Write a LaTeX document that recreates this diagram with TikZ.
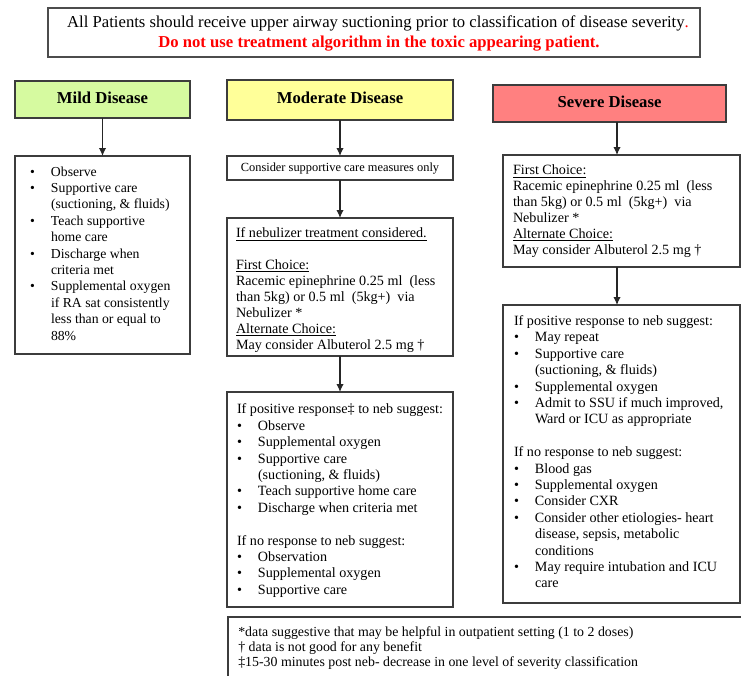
\documentclass[tikz,border=0pt]{standalone}
\usepackage{fontspec}
\setmainfont{Liberation Serif}
\usetikzlibrary{arrows.meta,fit}
\definecolor{mildc}{RGB}{214,250,160}
\definecolor{modc}{RGB}{255,255,153}
\definecolor{sevc}{RGB}{255,128,128}
\definecolor{edge}{RGB}{60,60,60}
\definecolor{redtxt}{RGB}{255,0,0}
\def\myBi{0pt}
\def\myBw{15.75pt}
\newcommand\bu{\makebox[\myBw][l]{\hspace*{\myBi}•}}
\newcommand\cu{\hspace*{\myBw}}
\tikzset{
  dbox/.style={draw=edge, line width=0.9pt, inner sep=0pt, outer sep=0pt},
  hbox/.style={draw=black!70, line width=1.3pt, inner sep=0pt, outer sep=0pt},
  txt/.style={align=left, inner sep=0pt, outer sep=0pt, font=\fontsize{10.3}{12.3}\selectfont},
  txtb/.style={align=left, inner sep=0pt, outer sep=0pt, font=\fontsize{10.6}{12.3}\selectfont},
  txtc/.style={align=left, inner sep=0pt, outer sep=0pt, font=\fontsize{10.6}{11.9}\selectfont},
  ttl/.style={inner sep=0pt, font=\fontsize{12.5}{14}\selectfont\bfseries},
  arr/.style={draw=black!85, line width=0.8pt, -{Latex[length=6pt,width=5.5pt]}}
}
\begin{document}
\begin{tikzpicture}[x=0.75pt,y=-0.75pt]
\useasboundingbox (0,0) rectangle (741,675);
\clip (0,0) rectangle (741,675);
% coordinates of boxes
\coordinate (h1) at (48,8);   \coordinate (h2) at (700,57);
\coordinate (a1) at (15,81);  \coordinate (a2) at (190,118);
\coordinate (b1) at (15,156); \coordinate (b2) at (190,354);
\coordinate (c1) at (227,80); \coordinate (c2) at (453,120);
\coordinate (d1) at (227,156);\coordinate (d2) at (453,180);
\coordinate (e1) at (227,218);\coordinate (e2) at (453,356);
\coordinate (f1) at (227,392);\coordinate (f2) at (453,607);
\coordinate (g1) at (493,85); \coordinate (g2) at (726,122);
\coordinate (k1) at (503,155);\coordinate (k2) at (740,267);
\coordinate (m1) at (503,305);\coordinate (m2) at (740,603);
\coordinate (n1) at (228,617);\coordinate (n2) at (748,690);
\coordinate (sx) at (617,0);

\node[hbox, fit=(h1)(h2)] (head) {};
\node[dbox, fill=mildc, fit=(a1)(a2)] (mildT) {};
\node[dbox, fit=(b1)(b2)] (mildB) {};
\node[dbox, fill=modc, fit=(c1)(c2)] (modT) {};
\node[dbox, fit=(d1)(d2)] (cons) {};
\node[dbox, fit=(e1)(e2)] (neb) {};
\node[dbox, fit=(f1)(f2)] (pos) {};
\node[dbox, fill=sevc, fit=(g1)(g2)] (sevT) {};
\node[dbox, fit=(k1)(k2)] (sevF) {};
\node[dbox, fit=(m1)(m2)] (sevR) {};
\node[dbox, fit=(n1)(n2)] (foot) {};

% header text
\node[inner sep=0pt, font=\fontsize{12.5}{14}\selectfont] (ht1) at (378,23)
  {All Patients should receive upper airway suctioning prior to classification of disease severity\textcolor{redtxt}{.}};
\node[inner sep=0pt, font=\fontsize{12.5}{14}\selectfont\bfseries, text=redtxt] (ht2) at (379,44)
  {Do not use treatment algorithm in the toxic appearing patient.};

% titles
\node[ttl] (mildL) at ([yshift=1.5pt]mildT.center) {Mild Disease};
\node[ttl] (modL) at ([yshift=1.5pt]modT.center) {Moderate Disease};
\node[ttl] (sevL) at ([yshift=1.5pt]sevT.center) {Severe Disease};

% mild text
\node[txt, anchor=north west] (mildtx) at (30,166.5) {%
\bu Observe\\
\bu Supportive care\\
\cu (suctioning, \& fluids)\\
\bu Teach supportive\\
\cu home care\\
\bu Discharge when\\
\cu criteria met\\
\bu Supplemental oxygen\\
\cu if RA sat consistently\\
\cu less than or equal to\\
\cu 88\%};

% moderate
\node[inner sep=0pt, font=\fontsize{9.3}{11}\selectfont] (constx) at ([yshift=-0.5pt]cons.center) {Consider supportive care measures only};

\node[txtc, anchor=north west] (nebtx) at (236,228) {%
\underline{If nebulizer treatment considered.}\\
\strut\\
\underline{First Choice:}\\
Racemic epinephrine 0.25 ml\ \ (less\\
than 5kg) or 0.5 ml\ \ (5kg+)\ \ via\\
Nebulizer *\\
\underline{Alternate Choice:}\\
May consider Albuterol 2.5 mg †};

\node[txtb, anchor=north west] (postx) at (237,404) {%
\def\myBi{3.75pt}\def\myBw{20.25pt}%
If positive response‡ to neb suggest:\\
\bu Observe\\
\bu Supplemental oxygen\\
\bu Supportive care\\
\cu (suctioning, \& fluids)\\
\bu Teach supportive home care\\
\bu Discharge when criteria met\\
\strut\\
If no response to neb suggest:\\
\bu Observation\\
\bu Supplemental oxygen\\
\bu Supportive care};

% severe
\node[txtc, anchor=north west] (sevFtx) at (513,165) {%
\underline{First Choice:}\\
Racemic epinephrine 0.25 ml\ \ (less\\
than 5kg) or 0.5 ml\ \ (5kg+)\ \ via\\
Nebulizer *\\
\underline{Alternate Choice:}\\
May consider Albuterol 2.5 mg †};

\node[txtb, anchor=north west] (sevRtx) at (514,315.5) {%
\def\myBi{1pt}\def\myBw{15pt}%
If positive response to neb suggest:\\
\bu May repeat\\
\bu Supportive care\\
\cu (suctioning, \& fluids)\\
\bu Supplemental oxygen\\
\bu Admit to SSU if much improved,\\
\cu Ward or ICU as appropriate\\
\strut\\
If no response to neb suggest:\\
\bu Blood gas\\
\bu Supplemental oxygen\\
\bu Consider CXR\\
\bu Consider other etiologies- heart\\
\cu disease, sepsis, metabolic\\
\cu conditions\\
\bu May require intubation and ICU\\
\cu care};

% footnotes
\node[align=left, inner sep=0pt, anchor=north west, font=\fontsize{10.4}{11.25}\selectfont] (foottx) at (238,626) {%
*data suggestive that may be helpful in outpatient setting (1 to 2 doses)\\
† data is not good for any benefit\\
‡15-30 minutes post neb- decrease in one level of severity classification};

% arrows
\draw[arr] (mildT.south) -- (mildB.north);
\draw[arr] (modT.south) -- (cons.north);
\draw[arr] (cons.south) -- (neb.north);
\draw[arr] (neb.south) -- (pos.north);
\draw[arr] (sevT.south -| sx) -- (sevF.north -| sx);
\draw[arr] (sevF.south -| sx) -- (sevR.north -| sx);
\end{tikzpicture}
\end{document}
